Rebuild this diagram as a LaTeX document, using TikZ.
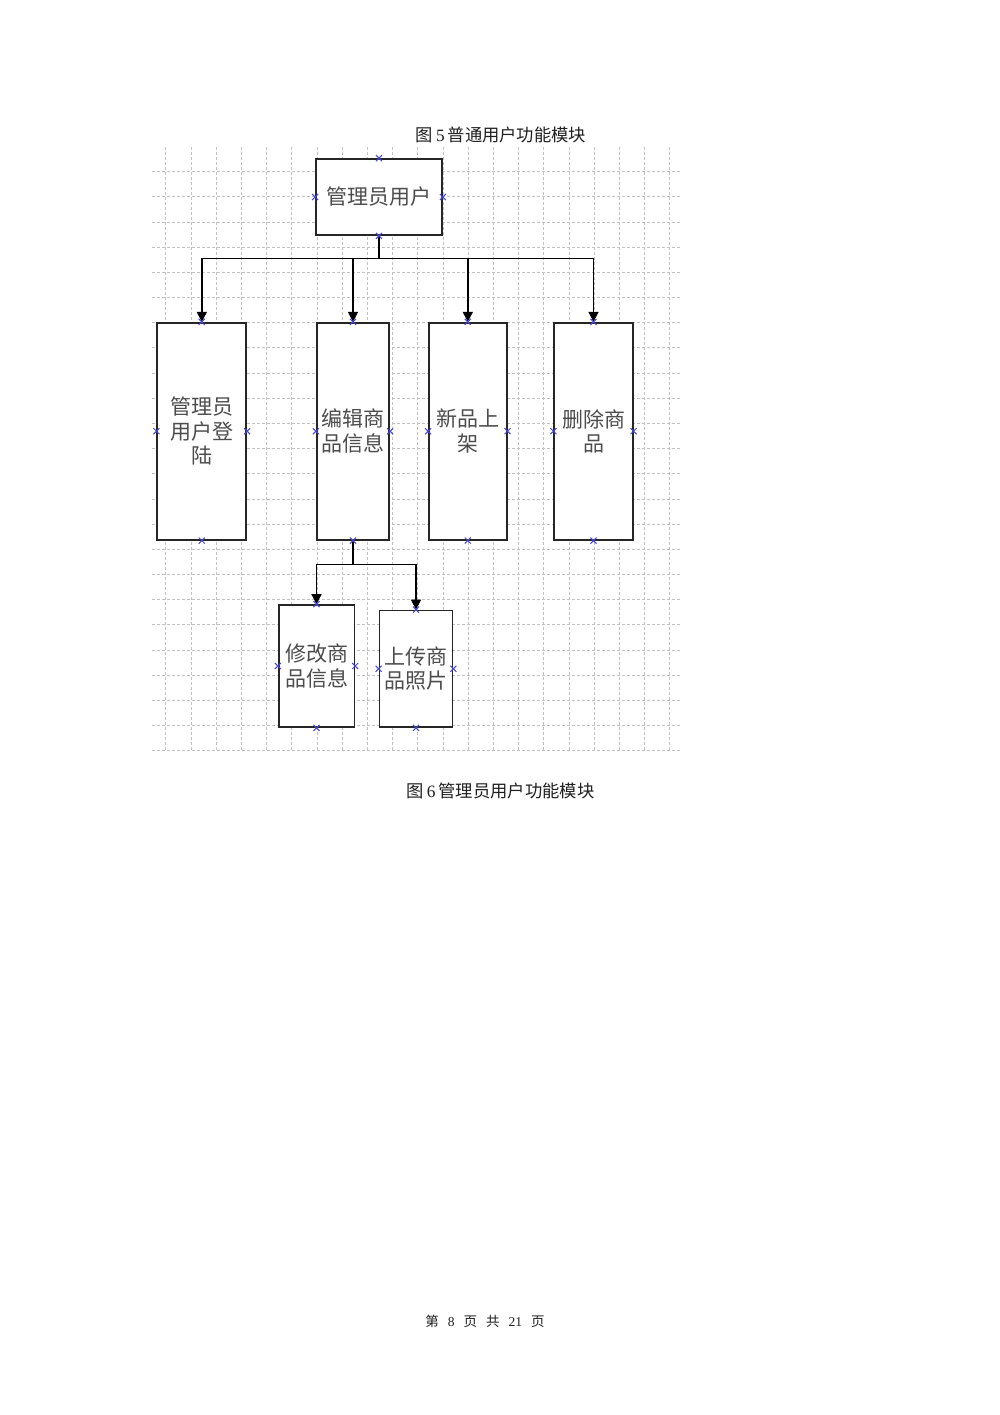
\documentclass[tikz,border=0pt]{standalone}
\usepackage{fontspec}
\setmainfont{Liberation Serif}
\newfontfamily\cjk{Noto Sans CJK SC}
\usetikzlibrary{arrows.meta}
\definecolor{xblue}{RGB}{70,70,215}
\begin{document}
\begin{tikzpicture}[x=1pt,y=-1pt,
  gridline/.style={draw=black!24, line width=0.8pt, dash pattern=on 3pt off 2pt},
  box/.style={draw=black!85, line width=1.7pt, fill=white, inner sep=0pt, align=center,
    font=\cjk\fontsize{21}{24.5}\selectfont, text=black!70},
  arr/.style={draw=black, line width=1.6pt, -{Triangle[width=10pt,length=10pt]}},
  xmk/.style={draw=xblue, line width=1pt},
  caption/.style={font=\fontsize{17.3}{20}\selectfont, text=black!88, inner sep=0pt},
  footer/.style={font=\fontsize{13.5}{16}\selectfont, text=black!88, inner sep=0pt}]
\useasboundingbox (0,0) rectangle (1000,1415);
\fill[white] (0,0) rectangle (1000,1415);

% grid
\foreach \i in {0,...,20} \draw[gridline] (165.7+25.2*\i,147) -- (165.7+25.2*\i,752);
\foreach \j in {0,...,23} \draw[gridline] (152,171.7+25.17*\j) -- (680,171.7+25.17*\j);

% captions
\node[caption] (cap5) at (501,135) {{\cjk 图}\hspace{3pt}5\hspace{3pt}{\cjk 普通用户功能模块}};
\node[caption] (cap6) at (500.5,790.5) {{\cjk 图}\hspace{3pt}6\hspace{3pt}{\cjk 管理员用户功能模块}};
\node[footer] (foot) at (485,1321) {{\cjk 第}\hspace{9pt}8\hspace{9pt}{\cjk 页}\hspace{9pt}{\cjk 共}\hspace{9pt}21\hspace{9pt}{\cjk 页}};

% boxes
\node[box, minimum width=126pt, minimum height=76pt] (top) at (379,197) {管理员用户};
\node[box, minimum width=89pt, minimum height=217pt] (b1) at (201.8,431.2) {管理员\\用户登\\陆};
\node[box, minimum width=72.6pt, minimum height=217pt] (b2) at (353,431.2) {编辑商\\品信息};
\node[box, minimum width=77.7pt, minimum height=217pt] (b3) at (467.8,431.2) {新品上\\架};
\node[box, minimum width=78.4pt, minimum height=217pt] (b4) at (593.5,431.2) {删除商\\品};
\node[box, minimum width=75.7pt, minimum height=122pt] (b5) at (316.5,666) {修改商\\品信息};
\node[box, minimum width=73pt, minimum height=116.5pt] (b6) at (416,668.7) {上传商\\品照片};

% connectors
\coordinate (bus1) at (0,258.5);
\coordinate (bus2) at (0,564.5);
\foreach \b in {b1,b2,b3,b4}
  \draw[arr] (top.south) |- (\b.north |- bus1) -- (\b.north);
\foreach \b in {b5,b6}
  \draw[arr] (b2.south) |- (\b.north |- bus2) -- (\b.north);

% connection markers
\foreach \n in {top,b1,b2,b3,b4,b5,b6}
  \foreach \a in {north,south,east,west}
    \draw[xmk] (\n.\a) +(-3,-3) -- +(3,3) +(-3,3) -- +(3,-3);
\end{tikzpicture}
\end{document}
